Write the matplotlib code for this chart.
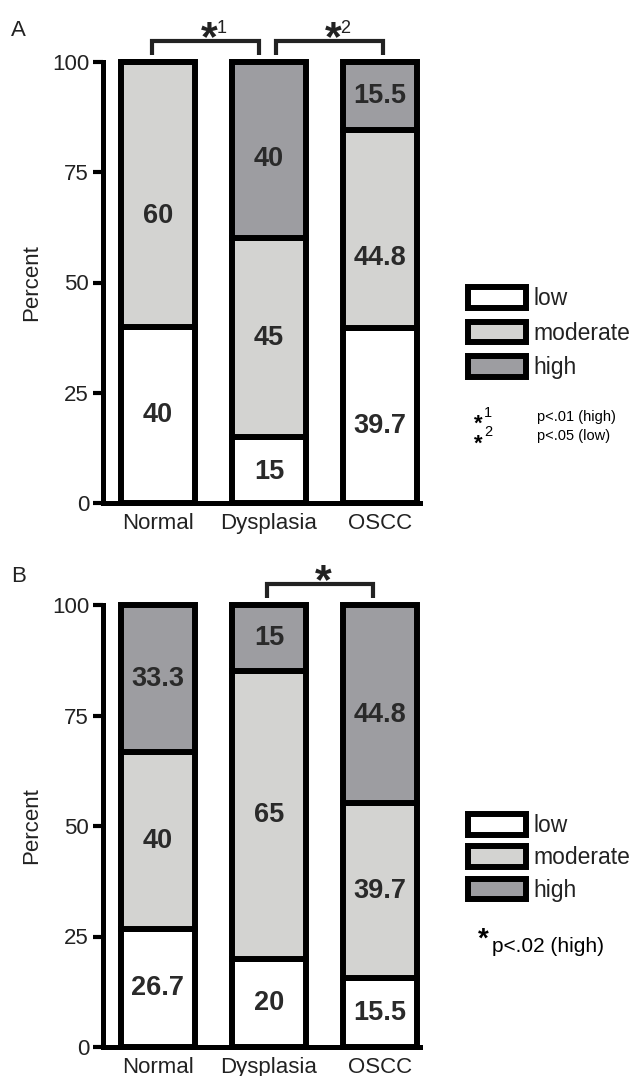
import numpy as np
import matplotlib.pyplot as plt
from matplotlib.patches import Patch

groups = ["Normal", "Dysplasia", "OSCC"]
levels = ["low", "moderate", "high"]

# panel A (percent of cases per group)
a_low = [40, 15, 39.7]
a_moderate = [60, 45, 44.8]
a_high = [0, 40, 15.5]

# panel B
b_low = [26.7, 20, 15.5]
b_moderate = [40, 65, 39.7]
b_high = [33.3, 15, 44.8]

level_colors = ["white", "#d3d3d1", "#9d9da1"]

plt.rcParams["font.family"] = ["Liberation Sans", "DejaVu Sans"]

W, H = 637, 1076
fig = plt.figure(figsize=(W / 100, H / 100), dpi=100)


def fx(px):
    return px / W


def fy(py):
    return 1 - py / H


def stacked(ax, series, shifts):
    x = np.arange(len(groups))
    bottom = np.zeros(len(groups))
    for i, vals in enumerate(series):
        vals = np.array(vals, dtype=float)
        ax.bar(x, vals, bottom=bottom, width=0.667, color=level_colors[i],
               edgecolor="black", linewidth=4.3, clip_on=False, zorder=2)
        for j, v in enumerate(vals):
            if v > 0:
                ax.text(x[j], bottom[j] + v / 2 + shifts[i][j], f"{v:g}",
                        ha="center", va="center", fontsize=19.5, fontweight="bold",
                        color="#2a2a2a", zorder=3)
        bottom += vals

    ax.set_xlim(-0.495, 2.36)
    ax.set_ylim(0, 100)
    ax.set_yticks([0, 25, 50, 75, 100])
    ax.set_xticks(x, groups)
    for s in ["top", "right"]:
        ax.spines[s].set_visible(False)
    for s in ["left", "bottom"]:
        ax.spines[s].set_linewidth(3.6)
    ax.tick_params(axis="y", length=7, width=3, labelsize=16, pad=3, labelcolor="#222222")
    ax.tick_params(axis="x", length=0, labelsize=16, pad=7, labelcolor="#222222")
    ax.set_ylabel("Percent", fontsize=16, labelpad=7, color="#222222")


def bracket(ax, i, j, shift, sup):
    mid = (i + j) / 2 + shift
    x0, x1 = mid - 0.48, mid + 0.48
    ax.plot([x0, x0, x1, x1], [101.6, 104.7, 104.7, 101.6], color="#222222",
            lw=3, clip_on=False, solid_joinstyle="miter", solid_capstyle="butt")
    ax.text(mid + 0.03, 102.7, "*", ha="center", va="baseline", fontsize=31,
            fontweight="bold", color="#222222", clip_on=False)
    if sup:
        ax.text(mid + 0.1, 107.6, sup, ha="left", va="center", fontsize=13,
                color="#222222", clip_on=False)


def legend(anchor_y, spacing):
    handles = [Patch(facecolor=c, edgecolor="black", linewidth=4.3, joinstyle="round")
               for c in level_colors]
    leg = fig.legend(handles, levels, loc="upper left",
                     bbox_to_anchor=(fx(468), fy(anchor_y)), frameon=False,
                     fontsize=16.5, handlelength=2.55, handleheight=1.0,
                     handletextpad=0.3, labelspacing=spacing, borderpad=0,
                     borderaxespad=0)
    for t in leg.get_texts():
        t.set_color("#222222")


# ---- panel A ----
ax_a = fig.add_axes([fx(103), fy(503), 317 / W, 441 / H])
stacked(ax_a, [a_low, a_moderate, a_high],
        [[0, -0.5, -2.5], [-5, 0, -6.6], [0, -2, 0]])
bracket(ax_a, 0, 1, -0.07, "1")
bracket(ax_a, 1, 2, 0.045, "2")
legend(287, 0.5)
fig.text(fx(11), fy(30), "A", fontsize=16, va="center", color="#222222")

fig.text(fx(478), fy(424), "*", fontsize=16, fontweight="bold", ha="center", va="center")
fig.text(fx(484), fy(413), "1", fontsize=10.5, va="center")
fig.text(fx(537), fy(417), "p<.01 (high)", fontsize=10.5, va="center")
fig.text(fx(478), fy(444), "*", fontsize=16, fontweight="bold", ha="center", va="center")
fig.text(fx(484), fy(432), "2", fontsize=10.5, va="center")
fig.text(fx(537), fy(436), "p<.05 (low)", fontsize=10.5, va="center")

# ---- panel B ----
ax_b = fig.add_axes([fx(103), fy(1047), 317 / W, 442 / H])
stacked(ax_b, [b_low, b_moderate, b_high],
        [[0, 0, 0], [0, 0, 0], [0, 0, -2.4]])
bracket(ax_b, 1, 2, -0.04, None)
legend(814, 0.4)
fig.text(fx(11), fy(576), "B", fontsize=16, va="center", color="#222222")

fig.text(fx(483), fy(940), "*", fontsize=20, fontweight="bold", ha="center", va="center")
fig.text(fx(492), fy(947), "p<.02 (high)", fontsize=15, va="center")

fig.savefig("out.png", dpi=100)
